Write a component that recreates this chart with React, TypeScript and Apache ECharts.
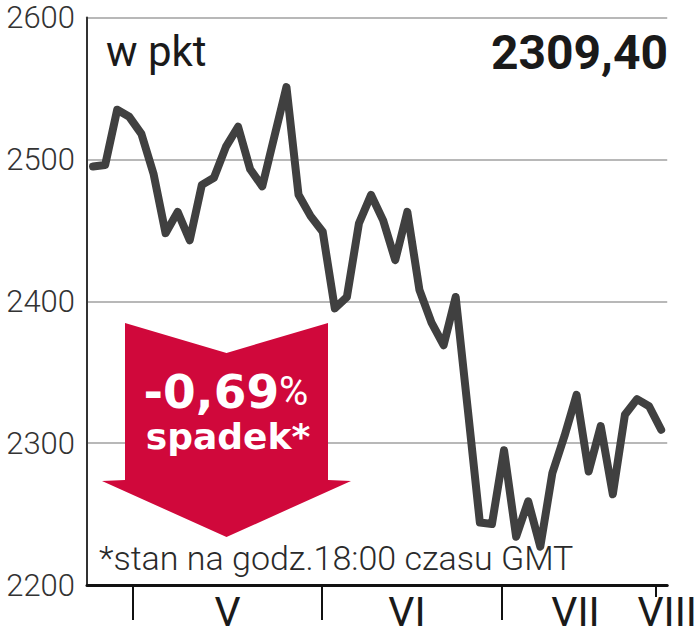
import React, { useEffect, useRef } from "react";
import * as echarts from "echarts";

// Index values (pkt), one per session
const values: number[] = [
  2495, 2496, 2535, 2530, 2518, 2490, 2448, 2463, 2443, 2482,
  2487, 2509, 2523, 2493, 2481, 2516, 2551, 2475, 2460, 2449,
  2395, 2403, 2455, 2475, 2457, 2429, 2463, 2408, 2385, 2369,
  2403, 2324, 2244, 2243, 2295, 2234, 2259, 2227, 2279, 2305,
  2334, 2280, 2312, 2264, 2320, 2331, 2326, 2309.4,
];

const yTicks = { min: 2200, max: 2600, interval: 100 };
// month boundaries on the session scale
const monthBoundaries: number[] = [3.82, 19.44, 34.33];
const lastBoundary: number[] = [47.03];
const monthLabels: string[] = ["V", "VI", "VII", "VIII"];
const monthLabelPositions: number[] = [11.63, 26.47, 40.41, 48];

const unitLabel = "w pkt";
const lastValueLabel = "2309,40";
const changeLabel = "-0,69";
const changeWord = "spadek*";
const footnote = "*stan na godz.18:00 czasu GMT";

export default function App() {
  const ref = useRef<HTMLDivElement>(null);

  useEffect(() => {
    if (!ref.current) return;
    const chart = echarts.init(ref.current, undefined, { renderer: "svg" });
    const n = values.length;
    const lineData = values.map((v, i) => [i + 0.5, v]);

    chart.setOption({
      animation: false,
      backgroundColor: "#ffffff",
      grid: { left: 87, right: 31, top: 17.5, bottom: 55, containLabel: false },
      xAxis: [
        {
          type: "value",
          min: 0,
          max: n,
          splitLine: { show: false },
          axisLine: { show: true, lineStyle: { color: "#111111", width: 3 } },
          axisTick: {
            show: true,
            customValues: monthBoundaries,
            length: 35,
            lineStyle: { color: "#111111", width: 2 },
          },
          axisLabel: {
            show: true,
            customValues: monthLabelPositions,
            margin: 6,
            fontFamily: "Roboto",
            fontSize: 41,
            color: "#1a1a1a",
            formatter: (v: number) => {
              const k = monthLabelPositions.findIndex((p) => Math.abs(p - v) < 0.01);
              return k >= 0 ? monthLabels[k] : "";
            },
          },
        },
        {
          type: "value",
          min: 0,
          max: n,
          position: "bottom",
          splitLine: { show: false },
          axisLine: { show: false },
          axisLabel: { show: false },
          axisTick: {
            show: true,
            customValues: lastBoundary,
            length: 12,
            lineStyle: { color: "#111111", width: 2 },
          },
        },
      ],
      yAxis: {
        type: "value",
        min: yTicks.min,
        max: yTicks.max,
        interval: yTicks.interval,
        axisLine: { show: true, lineStyle: { color: "#333333", width: 2 } },
        axisTick: { show: false },
        splitLine: { show: true, lineStyle: { color: "#a0a0a0", width: 1.5 } },
        axisLabel: {
          margin: 12,
          fontFamily: "Roboto",
          fontWeight: 300,
          fontSize: 31,
          color: "#333333",
          formatter: (v: number) => String(v),
        },
      },
      series: [
        {
          type: "line",
          xAxisIndex: 0,
          data: lineData,
          symbol: "none",
          z: 3,
          lineStyle: { color: "#404040", width: 8, cap: "round", join: "round" },
        },
      ],
      graphic: [
        {
          type: "polygon",
          z: 1,
          shape: {
            points: [
              [125, 323],
              [226.5, 353],
              [328, 323],
              [328, 480],
              [351, 481],
              [226.5, 537],
              [102, 481],
              [125, 480],
            ],
          },
          style: { fill: "#d0083b" },
        },
        {
          type: "text",
          z: 2,
          x: 226,
          y: 391,
          style: {
            text: "{a|" + changeLabel + "}{b|%}",
            align: "center",
            verticalAlign: "middle",
            rich: {
              a: { fontFamily: "DejaVu Sans", fontWeight: "bold", fontSize: 47, fill: "#ffffff" },
              b: { fontFamily: "Roboto", fontWeight: "normal", fontSize: 40, fill: "#ffffff" },
            },
          },
        },
        {
          type: "text",
          z: 2,
          x: 228,
          y: 436,
          style: {
            text: changeWord,
            align: "center",
            verticalAlign: "middle",
            fontFamily: "DejaVu Sans",
            fontWeight: "bold",
            fontSize: 36,
            fill: "#ffffff",
          },
        },
        {
          type: "text",
          z: 2,
          x: 106,
          y: 51,
          style: {
            text: unitLabel,
            align: "left",
            verticalAlign: "middle",
            fontFamily: "Roboto",
            fontSize: 42,
            fill: "#1a1a1a",
          },
        },
        {
          type: "text",
          z: 2,
          x: 668,
          y: 52,
          style: {
            text: lastValueLabel,
            align: "right",
            verticalAlign: "middle",
            fontFamily: "Roboto",
            fontWeight: "bold",
            fontSize: 48,
            fill: "#1a1a1a",
          },
        },
        {
          type: "text",
          z: 1,
          x: 99,
          y: 558,
          style: {
            text: footnote,
            align: "left",
            verticalAlign: "middle",
            fontFamily: "Roboto",
            fontWeight: 300,
            fontSize: 34,
            fill: "#2a2a2a",
          },
        },
      ],
    });

    return () => {
      chart.dispose();
    };
  }, []);

  return (
    <div
      ref={ref}
      style={{ position: "absolute", left: 0, top: 0, width: 700, height: 640 }}
    />
  );
}
